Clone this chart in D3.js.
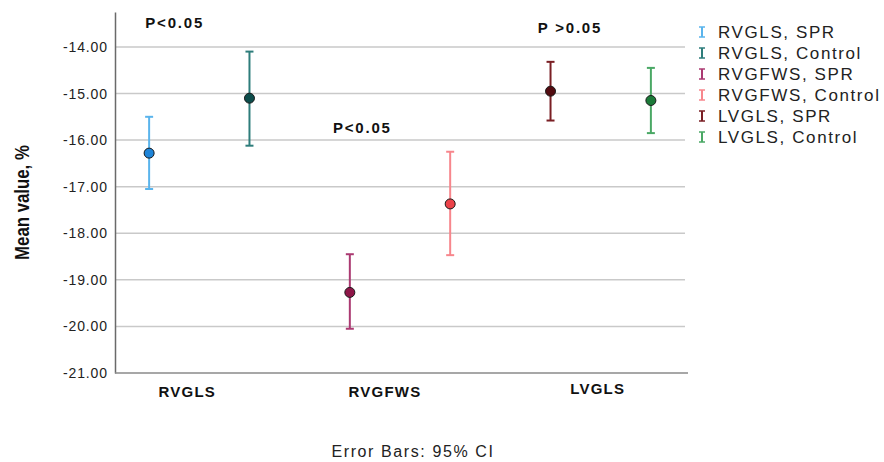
<!DOCTYPE html>
<html>
<head>
<meta charset="utf-8">
<script src="https://cdn.jsdelivr.net/npm/d3@7"></script>
<style>
  body { margin: 0; background: #fff; }
  text { font-family: "Liberation Sans", Arial, sans-serif; }
</style>
</head>
<body>
<div class="chart"></div>
<script>
// measures shown on the x axis
var groups = ['RVGLS', 'RVGFWS', 'LVGLS'];

// one entry per series: name, group, mean, 95% CI
var seriesNames = ['RVGLS, SPR', 'RVGLS, Control', 'RVGFWS, SPR', 'RVGFWS, Control', 'LVGLS, SPR', 'LVGLS, Control'];
var seriesGroup = ['RVGLS', 'RVGLS', 'RVGFWS', 'RVGFWS', 'LVGLS', 'LVGLS'];
var means = [-16.28, -15.10, -19.27, -17.37, -14.95, -15.15];
var ciUpper = [-15.50, -14.10, -18.45, -16.25, -14.32, -14.45];
var ciLower = [-17.05, -16.12, -20.05, -18.47, -15.58, -15.85];

var yTicks = [-21, -20, -19, -18, -17, -16, -15, -14];

// p-value notes per group, placed at a value level
var pLabels = ['P<0.05', 'P<0.05', 'P >0.05'];
var pLevels = [-13.49, -15.74, -13.60];

var chartConfig = {
    w: 884,
    h: 462,
    left: 115,
    right: 685,
    top: 12,
    bottom: 373,
    selector: '.chart',
    lineColors: ['#5ab4ec', '#2e7d7b', '#ab3a72', '#f7868c', '#7a1f24', '#4aa865'],
    dotColors: ['#1e84d8', '#0c4c4b', '#8e1648', '#ec4249', '#520b10', '#1b7a38'],
    labelNudge: [-12, -15, -3],
    labelDy: [397, 397, 394],
    pNudge: [-24, -37, -33]
};

var svg = d3.select(chartConfig.selector)
    .append('svg')
    .attr('width', chartConfig.w)
    .attr('height', chartConfig.h);

var yScale = d3.scaleLinear()
    .domain([-21, -13.25])
    .range([chartConfig.bottom, chartConfig.top]);

var xScale = d3.scalePoint()
    .domain(seriesNames)
    .range([chartConfig.left, chartConfig.right])
    .padding(0.34);

var groupX = function (g) {
    var xs = seriesNames.filter(function (s, i) { return seriesGroup[i] === g; }).map(xScale);
    return d3.mean(xs);
};

// gridlines
svg.append('g')
    .selectAll('line')
    .data(yTicks.slice(1))
    .enter()
    .append('line')
    .attr('x1', chartConfig.left)
    .attr('x2', chartConfig.right)
    .attr('y1', function (d) { return yScale(d); })
    .attr('y2', function (d) { return yScale(d); })
    .attr('stroke', '#c9c9c9')
    .attr('stroke-width', 1.5);

// y axis
var yAxis = d3.axisLeft(yScale)
    .tickValues(yTicks)
    .tickSize(0)
    .tickPadding(7)
    .tickFormat(function (d) { return d3.format('.2f')(d).replace('\u2212', '-'); });

var yG = svg.append('g')
    .attr('transform', 'translate(' + chartConfig.left + ',0)')
    .call(yAxis);
yG.select('.domain').attr('stroke', '#6a6a6a').attr('stroke-width', 1.5);
yG.selectAll('text')
    .attr('font-size', 14)
    .attr('letter-spacing', 0.9)
    .attr('fill', '#222');

// x axis line
svg.append('line')
    .attr('x1', chartConfig.left)
    .attr('x2', chartConfig.right + 3)
    .attr('y1', chartConfig.bottom)
    .attr('y2', chartConfig.bottom)
    .attr('stroke', '#8a8a8a')
    .attr('stroke-width', 1.5);

// group labels
svg.append('g')
    .selectAll('text')
    .data(groups)
    .enter()
    .append('text')
    .attr('x', function (d, i) { return groupX(d) + chartConfig.labelNudge[i]; })
    .attr('y', function (d, i) { return chartConfig.labelDy[i]; })
    .attr('text-anchor', 'middle')
    .attr('font-size', 15)
    .attr('letter-spacing', 1.2)
    .attr('font-weight', 'bold')
    .attr('fill', '#111')
    .text(function (d) { return d; });

// y axis title
svg.append('text')
    .attr('transform', 'translate(29,' + ((chartConfig.top + chartConfig.bottom) / 2 + 10) + ') rotate(-90) scale(0.84,1)')
    .attr('text-anchor', 'middle')
    .attr('font-size', 20)
    .attr('font-weight', 'bold')
    .attr('fill', '#111')
    .text('Mean value, %');

// error bars
var bars = svg.append('g')
    .selectAll('g')
    .data(seriesNames)
    .enter()
    .append('g');

bars.append('line')
    .attr('x1', function (d) { return xScale(d); })
    .attr('x2', function (d) { return xScale(d); })
    .attr('y1', function (d, i) { return yScale(ciUpper[i]); })
    .attr('y2', function (d, i) { return yScale(ciLower[i]); })
    .attr('stroke', function (d, i) { return chartConfig.lineColors[i]; })
    .attr('stroke-width', 2);

[ciUpper, ciLower].forEach(function (arr) {
    bars.append('line')
        .attr('x1', function (d) { return xScale(d) - 4; })
        .attr('x2', function (d) { return xScale(d) + 4; })
        .attr('y1', function (d, i) { return yScale(arr[i]); })
        .attr('y2', function (d, i) { return yScale(arr[i]); })
        .attr('stroke', function (d, i) { return chartConfig.lineColors[i]; })
        .attr('stroke-width', 2);
});

bars.append('circle')
    .attr('cx', function (d) { return xScale(d); })
    .attr('cy', function (d, i) { return yScale(means[i]); })
    .attr('r', 5)
    .attr('fill', function (d, i) { return chartConfig.dotColors[i]; })
    .attr('stroke', '#1a1a1a')
    .attr('stroke-width', 1);

// p-value notes
svg.append('g')
    .selectAll('text')
    .data(groups)
    .enter()
    .append('text')
    .attr('x', function (d, i) { return groupX(d) + chartConfig.pNudge[i] - 30; })
    .attr('y', function (d, i) { return yScale(pLevels[i]) + 5; })
    .attr('font-size', 15)
    .attr('letter-spacing', 1.8)
    .attr('font-weight', 'bold')
    .attr('fill', '#111')
    .text(function (d, i) { return pLabels[i]; });

// legend
var legend = svg.append('g')
    .selectAll('g')
    .data(seriesNames)
    .enter()
    .append('g')
    .attr('transform', function (d, i) { return 'translate(702,' + (32 + i * 21) + ')'; });

legend.append('line')
    .attr('x1', 0).attr('x2', 0).attr('y1', -5).attr('y2', 5)
    .attr('stroke', function (d, i) { return chartConfig.lineColors[i]; })
    .attr('stroke-width', 2);
legend.append('line')
    .attr('x1', -3).attr('x2', 3).attr('y1', -5).attr('y2', -5)
    .attr('stroke', function (d, i) { return chartConfig.lineColors[i]; })
    .attr('stroke-width', 1.5);
legend.append('line')
    .attr('x1', -3).attr('x2', 3).attr('y1', 5).attr('y2', 5)
    .attr('stroke', function (d, i) { return chartConfig.lineColors[i]; })
    .attr('stroke-width', 1.5);
legend.append('text')
    .attr('x', 16)
    .attr('y', 6)
    .attr('font-size', 17)
    .attr('letter-spacing', 1.6)
    .attr('fill', '#222')
    .text(function (d) { return d; });

// footnote
svg.append('text')
    .attr('x', 413)
    .attr('y', 457)
    .attr('text-anchor', 'middle')
    .attr('font-size', 16)
    .attr('letter-spacing', 1.6)
    .attr('fill', '#222')
    .text('Error Bars: 95% CI');
</script>
</body>
</html>
